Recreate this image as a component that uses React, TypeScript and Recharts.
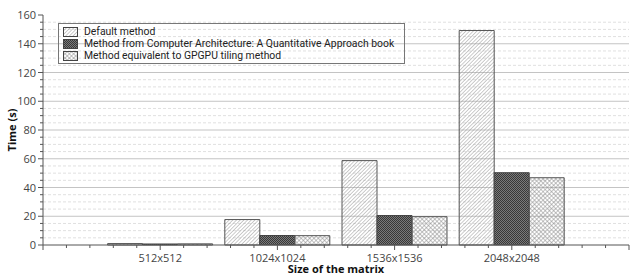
import React from "react";
import { Bar, BarChart, CartesianGrid, XAxis, YAxis } from "recharts";

const sizes = [512, 1024, 1536, 2048];
const sizeLabels = ["512x512", "1024x1024", "1536x1536", "2048x2048"];
const defaultMethod = [1.0, 17.7, 58.7, 149.2];
const bookMethod = [0.7, 6.6, 20.5, 50.3];
const gpgpuMethod = [0.8, 6.5, 19.7, 46.8];

const yTicks = [
  0, 5, 10, 15, 20, 25, 30, 35, 40, 45, 50, 55, 60, 65, 70, 75, 80, 85, 90, 95,
  100, 105, 110, 115, 120, 125, 130, 135, 140, 145, 150, 155, 160,
];
const yMajor = [0, 20, 40, 60, 80, 100, 120, 140, 160];
const xTicks = [
  0, 102.4, 204.8, 307.2, 409.6, 512, 614.4, 716.8, 819.2, 921.6, 1024, 1126.4,
  1228.8, 1331.2, 1433.6, 1536, 1638.4, 1740.8, 1843.2, 1945.6, 2048, 2150.4,
  2252.8, 2355.2, 2457.6, 2560,
];

const seriesNames = [
  "Default method",
  "Method from Computer Architecture: A Quantitative Approach book",
  "Method equivalent to GPGPU tiling method",
];

const data = sizes.map((size, i) => ({
  size,
  label: sizeLabels[i],
  defaultMethod: defaultMethod[i],
  bookMethod: bookMethod[i],
  gpgpuMethod: gpgpuMethod[i],
}));

const FONT = "'Open Sans', 'Noto Sans', sans-serif";
const LEGEND_FONT = "Roboto, 'Liberation Sans', sans-serif";
const TICK_COLOR = "#444";

function Patterns({ prefix }: { prefix: string }) {
  return (
    <defs>
      <pattern
        id={`${prefix}-hatch`}
        width="2.6"
        height="2.6"
        patternUnits="userSpaceOnUse"
        patternTransform="rotate(45)"
      >
        <line x1="0" y1="0" x2="0" y2="2.6" stroke="#9a9a9a" strokeWidth="1" />
      </pattern>
      <pattern id={`${prefix}-dark`} width="2" height="2" patternUnits="userSpaceOnUse">
        <rect width="2" height="2" fill="#7a7a7a" />
        <rect width="1" height="1" fill="#383838" />
        <rect x="1" y="1" width="1" height="1" fill="#383838" />
      </pattern>
      <pattern
        id={`${prefix}-cross`}
        width="3"
        height="3"
        patternUnits="userSpaceOnUse"
        patternTransform="rotate(45)"
      >
        <line x1="0" y1="0" x2="0" y2="3" stroke="#8a8a8a" strokeWidth="1" />
        <line x1="0" y1="0" x2="3" y2="0" stroke="#8a8a8a" strokeWidth="1" />
      </pattern>
    </defs>
  );
}

const fills = ["hatch", "dark", "cross"];

function YTick(props: any) {
  const { x, y, payload } = props;
  const v = payload.value;
  const major = v % 20 === 0;
  return (
    <g>
      <line x1={x - (major ? 5 : 3)} x2={x} y1={y} y2={y} stroke="#555" />
      {major && (
        <text
          x={x - 7}
          y={y}
          dy={4}
          textAnchor="end"
          fontSize={11}
          fontFamily={FONT}
          fill={TICK_COLOR}
        >
          {v}
        </text>
      )}
    </g>
  );
}

function XTick(props: any) {
  const { x, y, payload } = props;
  const v = payload.value;
  const idx = sizes.indexOf(v);
  const major = v % 512 === 0;
  return (
    <g>
      <line x1={x} x2={x} y1={y} y2={y + (major ? 5 : 3)} stroke="#555" />
      {idx >= 0 && (
        <text
          x={x}
          y={y + 17}
          textAnchor="middle"
          fontSize={11}
          fontFamily={FONT}
          fill={TICK_COLOR}
        >
          {sizeLabels[idx]}
        </text>
      )}
    </g>
  );
}

function LegendBox() {
  return (
    <div
      style={{
        position: "absolute",
        left: 58,
        top: 23,
        width: 347,
        height: 41,
        border: "1px solid #777",
        fontFamily: LEGEND_FONT,
        fontSize: 10.4,
        lineHeight: "12px",
        color: "#222",
        paddingTop: 2,
        boxSizing: "border-box",
      }}
    >
      {seriesNames.map((name, i) => (
        <div
          key={name}
          style={{
            display: "flex",
            alignItems: "center",
            height: 12,
            lineHeight: "12px",
            paddingLeft: 4,
          }}
        >
          <svg width={15} height={10} style={{ marginRight: 6, flexShrink: 0 }}>
            <Patterns prefix={`lg${i}`} />
            <rect
              x={0.5}
              y={0.5}
              width={14}
              height={9}
              fill={`url(#lg${i}-${fills[i]})`}
              stroke="#444"
            />
          </svg>
          <span style={{ whiteSpace: "nowrap", lineHeight: "12px" }}>{name}</span>
        </div>
      ))}
    </div>
  );
}

export default function App() {
  return (
    <div style={{ position: "absolute", left: 0, top: 0, width: 630, height: 275 }}>
      <BarChart
        width={630}
        height={275}
        data={data}
        margin={{ top: 15, right: 1, left: 0, bottom: 0 }}
        barGap={0}
        barSize={35}
      >
        <Patterns prefix="ch" />
        <CartesianGrid
          vertical={false}
          horizontalValues={yTicks.filter((t) => t % 20 !== 0)}
          stroke="#e0e0e0"
          strokeDasharray="3 2"
        />
        <CartesianGrid
          vertical={false}
          horizontalValues={yMajor.filter((t) => t > 0 && t < 160)}
          stroke="#c4c4c4"
        />
        <XAxis
          dataKey="size"
          type="number"
          domain={[0, 2560]}
          ticks={xTicks}
          interval={0}
          tickSize={0}
          tickMargin={0}
          tick={<XTick />}
          tickFormatter={() => ""}
          height={30}
          stroke="#555"
          label={{
            value: "Size of the matrix",
            position: "insideBottom",
            offset: 2,
            fontSize: 11,
            fontWeight: "bold",
            fontFamily: FONT,
            fill: "#111",
          }}
        />
        <YAxis
          domain={[0, 160]}
          ticks={yTicks}
          interval={0}
          width={43}
          tickSize={0}
          tickMargin={0}
          tick={<YTick />}
          tickFormatter={() => ""}
          stroke="#555"
          label={{
            value: "Time (s)",
            angle: -90,
            position: "insideLeft",
            offset: 12,
            style: { textAnchor: "middle" },
            fontSize: 11,
            fontWeight: "bold",
            fontFamily: FONT,
            fill: "#111",
          }}
        />
        <Bar
          dataKey="defaultMethod"
          name={seriesNames[0]}
          fill="url(#ch-hatch)"
          stroke="#555"
          isAnimationActive={false}
        />
        <Bar
          dataKey="bookMethod"
          name={seriesNames[1]}
          fill="url(#ch-dark)"
          stroke="#444"
          isAnimationActive={false}
        />
        <Bar
          dataKey="gpgpuMethod"
          name={seriesNames[2]}
          fill="url(#ch-cross)"
          stroke="#555"
          isAnimationActive={false}
        />
      </BarChart>
      <LegendBox />
    </div>
  );
}
